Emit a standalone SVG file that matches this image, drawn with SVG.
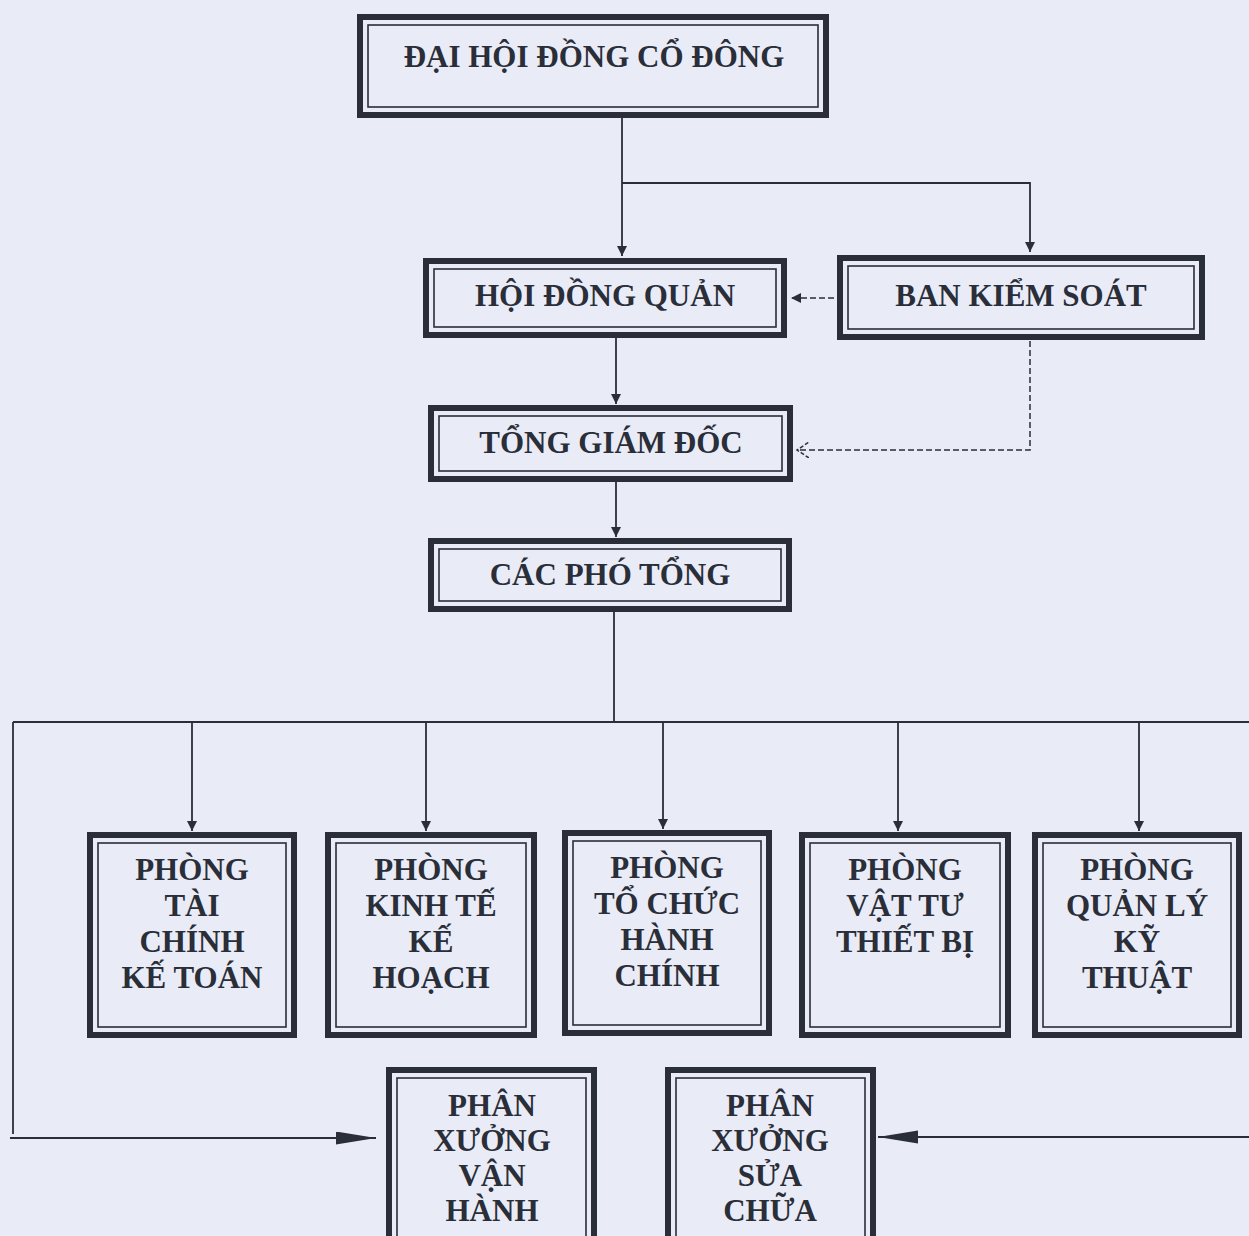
<svg xmlns="http://www.w3.org/2000/svg" width="1249" height="1236" viewBox="0 0 1249 1236">
<style>
.outer{fill:#e9ecf7;stroke:#2a2e38;stroke-width:6}
.inner{fill:none;stroke:#2a2e38;stroke-width:1.6}
.t{font-family:"Liberation Serif","Times New Roman",serif;font-weight:bold;font-size:31px;fill:#2a2e38;text-anchor:middle}
.tn{font-family:"Liberation Serif","Times New Roman",serif;font-weight:bold;font-size:31px;fill:#2a2e38;text-anchor:middle}
.ln{fill:none;stroke:#2a2e38;stroke-width:1.8}
.dash{fill:none;stroke:#2a2e38;stroke-width:1.5;stroke-dasharray:6 3}
</style>
<defs>
<marker id="ah" markerWidth="12" markerHeight="12" refX="10" refY="5" orient="auto" markerUnits="userSpaceOnUse">
<path d="M0,0 L10,5 L0,10 Z" fill="#2a2e38"/>
</marker>
<marker id="big" markerWidth="42" markerHeight="14" refX="40" refY="6.5" orient="auto" markerUnits="userSpaceOnUse">
<path d="M0,0 L40,6.5 L0,13 Z" fill="#2a2e38"/>
</marker>
<marker id="open" markerWidth="14" markerHeight="16" refX="12" refY="8" orient="auto" markerUnits="userSpaceOnUse">
<path d="M0,0 L12,8 L0,16" fill="none" stroke="#2a2e38" stroke-width="1.5" stroke-dasharray="4 2"/>
</marker>
</defs>
<rect width="1249" height="1236" fill="#e9ecf7"/>

<g id="connectors">
<path class="ln" d="M622,118 V256" marker-end="url(#ah)"/>
<path class="ln" d="M622,183 H1030 V252" marker-end="url(#ah)"/>
<path class="dash" d="M834,298 H791" marker-end="url(#ah)"/>
<path class="ln" d="M616,338 V404" marker-end="url(#ah)"/>
<path class="dash" d="M1030,341 V450 H797" marker-end="url(#open)"/>
<path class="ln" d="M616,482 V537" marker-end="url(#ah)"/>
<path class="ln" d="M614,612 V722"/>
<path class="ln" d="M13,722 H1249"/>
<path class="ln" d="M192,722 V831" marker-end="url(#ah)"/>
<path class="ln" d="M426,722 V831" marker-end="url(#ah)"/>
<path class="ln" d="M663,722 V829" marker-end="url(#ah)"/>
<path class="ln" d="M898,722 V831" marker-end="url(#ah)"/>
<path class="ln" d="M1139,722 V831" marker-end="url(#ah)"/>
<path class="ln" d="M13,722 V1134"/>
<path class="ln" d="M10,1138 H376" marker-end="url(#big)"/>
<path class="ln" d="M1249,1137 H878" marker-end="url(#big)"/>
</g>

<g id="dhdcd">
<rect class="outer" x="360" y="17" width="466" height="98"/>
<rect class="inner" x="368" y="25" width="450" height="82"/>
<text class="t" x="594" y="67">ĐẠI HỘI ĐỒNG CỔ ĐÔNG</text>
</g>

<g id="hdqt">
<rect class="outer" x="426" y="261" width="358" height="74"/>
<rect class="inner" x="434" y="269" width="342" height="58"/>
<text class="t" x="605" y="306">HỘI ĐỒNG QUẢN</text>
</g>

<g id="bks">
<rect class="outer" x="840" y="258" width="362" height="79"/>
<rect class="inner" x="848" y="266" width="346" height="63"/>
<text class="t" x="1021" y="306">BAN KIỂM SOÁT</text>
</g>

<g id="tgd">
<rect class="outer" x="431" y="408" width="359" height="71"/>
<rect class="inner" x="439" y="416" width="343" height="55"/>
<text class="t" x="611" y="453">TỔNG GIÁM ĐỐC</text>
</g>

<g id="cpt">
<rect class="outer" x="431" y="541" width="358" height="68"/>
<rect class="inner" x="439" y="549" width="342" height="52"/>
<text class="t" x="610" y="585">CÁC PHÓ TỔNG</text>
</g>

<g id="p1">
<rect class="outer" x="90" y="835" width="204" height="200"/>
<rect class="inner" x="98" y="843" width="188" height="184"/>
<text class="t" x="192"><tspan x="192" y="880">PHÒNG</tspan><tspan x="192" y="916">TÀI</tspan><tspan x="192" y="952">CHÍNH</tspan><tspan x="192" y="988">KẾ TOÁN</tspan></text>
</g>

<g id="p2">
<rect class="outer" x="328" y="835" width="206" height="200"/>
<rect class="inner" x="336" y="843" width="190" height="184"/>
<text class="t" x="431"><tspan x="431" y="880">PHÒNG</tspan><tspan x="431" y="916">KINH TẾ</tspan><tspan x="431" y="952">KẾ</tspan><tspan x="431" y="988">HOẠCH</tspan></text>
</g>

<g id="p3">
<rect class="outer" x="565" y="833" width="204" height="200"/>
<rect class="inner" x="573" y="841" width="188" height="184"/>
<text class="t" x="667"><tspan x="667" y="878">PHÒNG</tspan><tspan x="667" y="914">TỔ CHỨC</tspan><tspan x="667" y="950">HÀNH</tspan><tspan x="667" y="986">CHÍNH</tspan></text>
</g>

<g id="p4">
<rect class="outer" x="802" y="835" width="206" height="200"/>
<rect class="inner" x="810" y="843" width="190" height="184"/>
<text class="t" x="905"><tspan x="905" y="880">PHÒNG</tspan><tspan x="905" y="916">VẬT TƯ</tspan><tspan x="905" y="952">THIẾT BỊ</tspan></text>
</g>

<g id="p5">
<rect class="outer" x="1035" y="835" width="204" height="200"/>
<rect class="inner" x="1043" y="843" width="188" height="184"/>
<text class="t" x="1137"><tspan x="1137" y="880">PHÒNG</tspan><tspan x="1137" y="916">QUẢN LÝ</tspan><tspan x="1137" y="952">KỸ</tspan><tspan x="1137" y="988">THUẬT</tspan></text>
</g>

<g id="px1">
<rect class="outer" x="389" y="1070" width="205" height="180"/>
<rect class="inner" x="397" y="1078" width="189" height="164"/>
<text class="tn" x="492"><tspan x="492" y="1116">PHÂN</tspan><tspan x="492" y="1151">XƯỞNG</tspan><tspan x="492" y="1186">VẬN</tspan><tspan x="492" y="1221">HÀNH</tspan></text>
</g>

<g id="px2">
<rect class="outer" x="668" y="1070" width="205" height="180"/>
<rect class="inner" x="676" y="1078" width="189" height="164"/>
<text class="tn" x="770"><tspan x="770" y="1116">PHÂN</tspan><tspan x="770" y="1151">XƯỞNG</tspan><tspan x="770" y="1186">SỬA</tspan><tspan x="770" y="1221">CHỮA</tspan></text>
</g>
</svg>
